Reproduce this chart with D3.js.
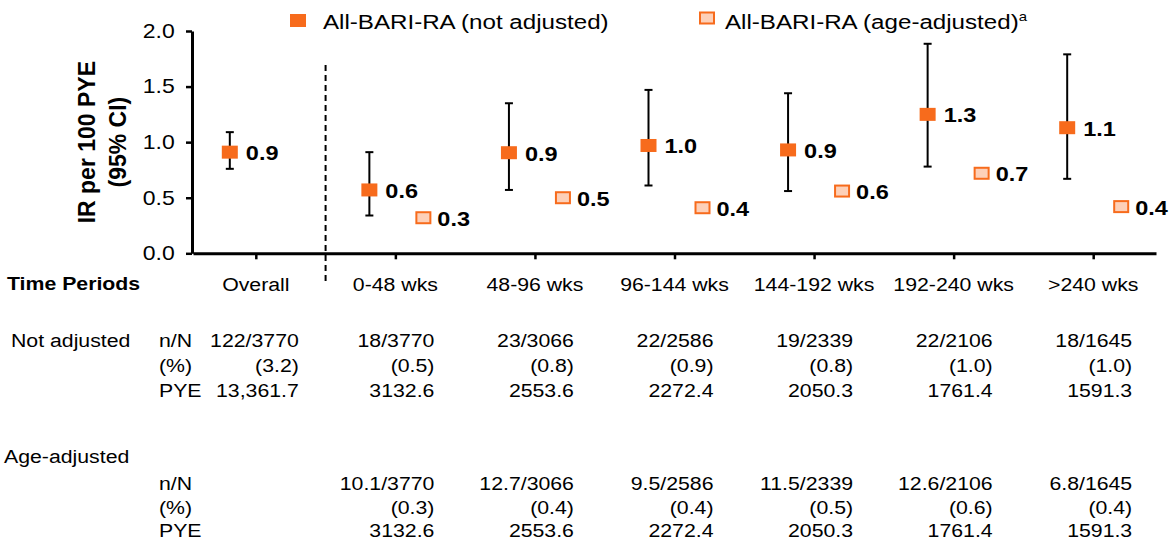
<!DOCTYPE html>
<html lang="en">
<head>
<meta charset="UTF-8">
<title>IR per 100 PYE by time period</title>
<script src="https://d3js.org/d3.v7.min.js"></script>
<style>
  body { margin: 0; background: #fff; }
  svg { display: block; font-family: "Liberation Sans", Arial, sans-serif; }
  .axis path, .axis line { stroke: #000; }
</style>
</head>
<body>
<svg width="1170" height="550"></svg>
<script>
// --- data ---
const categories = ["Overall", "0-48 wks", "48-96 wks", "96-144 wks", "144-192 wks", "192-240 wks", ">240 wks"];
const irNotAdj  = [0.91, 0.57, 0.905, 0.97, 0.93, 1.25, 1.13];
const ciLow     = [0.76, 0.34, 0.57, 0.61, 0.56, 0.78, 0.67];
const ciHigh    = [1.09, 0.91, 1.35, 1.47, 1.44, 1.885, 1.79];
const irAgeAdj  = [null, 0.32, 0.50, 0.41, 0.56, 0.72, 0.42];
const lblNotAdj = ["0.9", "0.6", "0.9", "1.0", "0.9", "1.3", "1.1"];
const lblAgeAdj = [null, "0.3", "0.5", "0.4", "0.6", "0.7", "0.4"];
const yTicks = [0, 0.5, 1.0, 1.5, 2.0];

// table under the axis
const naN   = ["122/3770", "18/3770", "23/3066", "22/2586", "19/2339", "22/2106", "18/1645"];
const naPct = ["(3.2)", "(0.5)", "(0.8)", "(0.9)", "(0.8)", "(1.0)", "(1.0)"];
const naPye = ["13,361.7", "3132.6", "2553.6", "2272.4", "2050.3", "1761.4", "1591.3"];
const aaN   = [null, "10.1/3770", "12.7/3066", "9.5/2586", "11.5/2339", "12.6/2106", "6.8/1645"];
const aaPct = [null, "(0.3)", "(0.4)", "(0.4)", "(0.5)", "(0.6)", "(0.4)"];
const aaPye = [null, "3132.6", "2553.6", "2272.4", "2050.3", "1761.4", "1591.3"];

const ORANGE = "#f76b1c";
const PEACH = "#fdd0b8";
const SX = 1.12; // reference text looks a bit wide, so stretch glyphs horizontally

const svg = d3.select("svg");

const x = d3.scalePoint().domain(categories).range([193, 1156]).padding(0.45);
const y = d3.scaleLinear().domain([0, 2]).range([253.3, 31]);

// small helper for (slightly stretched) text
function txt(x0, y0, s, opts = {}) {
  return svg.append("text")
    .attr("transform", `translate(${x0},${y0}) scale(${opts.sx || SX},1)`)
    .attr("text-anchor", opts.anchor || "start")
    .style("font-size", (opts.size || 19) + "px")
    .style("font-weight", opts.bold ? "bold" : "normal")
    .style("fill", "#000")
    .text(s);
}

// y axis
const yAxis = svg.append("g")
  .attr("class", "axis")
  .attr("transform", "translate(192,0)")
  .call(d3.axisLeft(y).tickValues(yTicks).tickFormat(d3.format(".1f")).tickSize(6).tickSizeOuter(0).tickPadding(9));
yAxis.select(".domain").attr("stroke-width", 3);
yAxis.selectAll(".tick line").attr("stroke-width", 2.5);
yAxis.selectAll("text")
  .attr("transform", `scale(1.15,1)`)
  .style("font-size", "20px")
  .style("font-family", "Liberation Sans, Arial, sans-serif")
  .attr("fill", "#000");

// x axis
const xAxis = svg.append("g")
  .attr("class", "axis")
  .attr("transform", `translate(0,${y(0)})`)
  .call(d3.axisBottom(x).tickSize(6).tickSizeOuter(0).tickFormat(() => ""));
xAxis.select(".domain").attr("stroke-width", 3);
xAxis.selectAll(".tick line").attr("stroke-width", 2.5);

// y title
const yTitle = svg.append("text")
  .attr("transform", `translate(95,${y(1.0)}) rotate(-90)`)
  .attr("text-anchor", "middle")
  .style("font-size", "23px")
  .style("font-weight", "bold");
yTitle.append("tspan").attr("x", 0).attr("dy", 0).text("IR per 100 PYE");
yTitle.append("tspan").attr("x", 0).attr("dy", 31).text("(95% CI)");

// dashed separator between Overall and the time periods
const sepX = x(categories[0]) + x.step() / 2;
svg.append("line")
  .attr("x1", sepX).attr("x2", sepX)
  .attr("y1", 65).attr("y2", 285)
  .attr("stroke", "#000")
  .attr("stroke-width", 2)
  .attr("stroke-dasharray", "6,4");

// error bars + not-adjusted markers
const offNA = -26, offAA = 28;
categories.forEach((c, i) => {
  const cx = x(c) + offNA;
  svg.append("line")
    .attr("x1", cx).attr("x2", cx)
    .attr("y1", y(ciLow[i])).attr("y2", y(ciHigh[i]))
    .attr("stroke", "#000").attr("stroke-width", 2);
  [ciLow[i], ciHigh[i]].forEach(v => {
    svg.append("line")
      .attr("x1", cx - 4).attr("x2", cx + 4)
      .attr("y1", y(v)).attr("y2", y(v))
      .attr("stroke", "#000").attr("stroke-width", 2);
  });
  svg.append("rect")
    .attr("x", cx - 8).attr("y", y(irNotAdj[i]) - 6.5)
    .attr("width", 16).attr("height", 13)
    .attr("fill", ORANGE);
  txt(cx + 16, y(irNotAdj[i]) + 8, lblNotAdj[i], { size: 21, bold: true, sx: 1.12 });
});

// age-adjusted markers
categories.forEach((c, i) => {
  if (irAgeAdj[i] == null) return;
  const cx = x(c) + offAA;
  svg.append("rect")
    .attr("x", cx - 7).attr("y", y(irAgeAdj[i]) - 5.5)
    .attr("width", 14).attr("height", 11)
    .attr("fill", PEACH).attr("stroke", ORANGE).attr("stroke-width", 2);
  txt(cx + 14, y(irAgeAdj[i]) + 8, lblAgeAdj[i], { size: 21, bold: true, sx: 1.12 });
});

// legend
svg.append("rect").attr("x", 290).attr("y", 14).attr("width", 16).attr("height", 13).attr("fill", ORANGE);
txt(323, 29, "All-BARI-RA (not adjusted)", { size: 21, sx: 1.15 });
svg.append("rect").attr("x", 700).attr("y", 12.5).attr("width", 14).attr("height", 11)
  .attr("fill", PEACH).attr("stroke", ORANGE).attr("stroke-width", 2);
const lg2 = txt(725, 29, "All-BARI-RA (age-adjusted)", { size: 21, sx: 1.15 });
lg2.append("tspan").attr("dy", -8).style("font-size", "13px").text("a");

// category labels row
txt(7, 290, "Time Periods", { bold: true });
categories.forEach(c => txt(x(c), 291, c, { anchor: "middle" }));

// table
const rowLabelX = 159;
const naRows = [[347, "n/N", naN], [372, "(%)", naPct], [397, "PYE", naPye]];
const aaRows = [[490, "n/N", aaN], [514, "(%)", aaPct], [537, "PYE", aaPye]];
txt(11, 347, "Not adjusted");
txt(4, 463, "Age-adjusted");
[naRows, aaRows].forEach(rows => {
  rows.forEach(([ry, lab, vals]) => {
    txt(rowLabelX, ry, lab);
    vals.forEach((v, i) => {
      if (v == null) return;
      const rx = x(categories[i]) + (i === 0 ? 43 : 39);
      txt(rx, ry, v, { anchor: "end" });
    });
  });
});
</script>
</body>
</html>
